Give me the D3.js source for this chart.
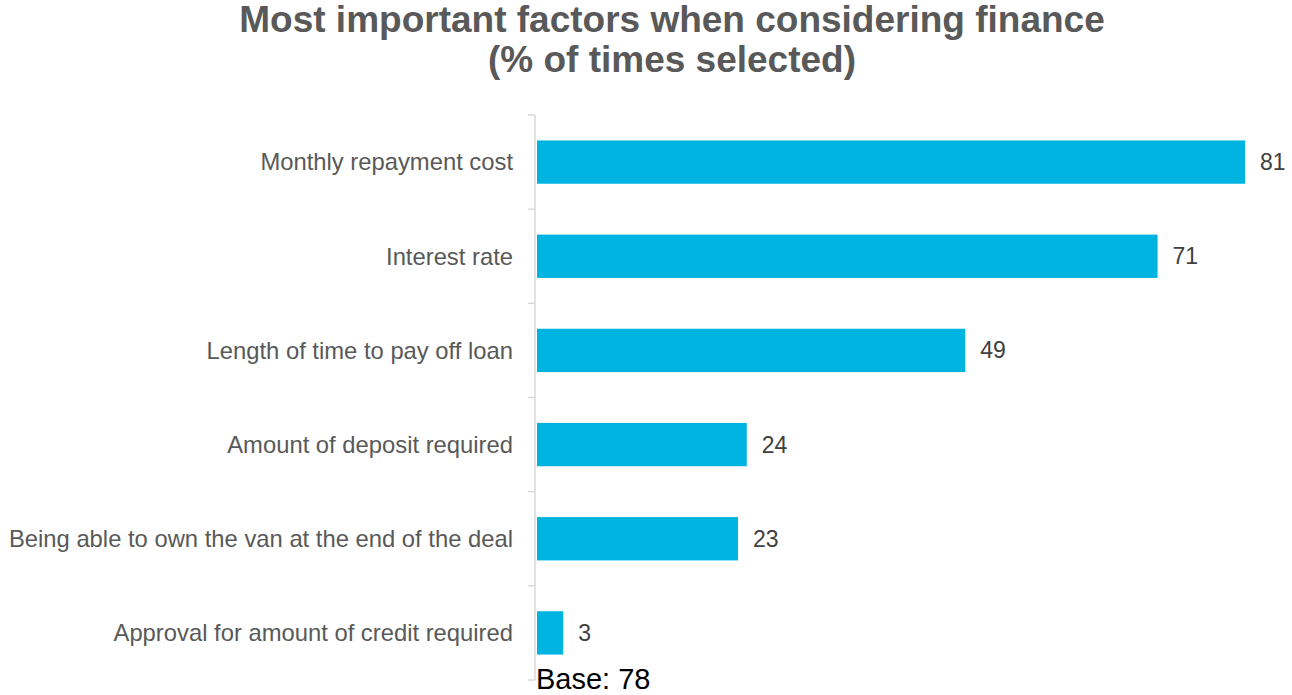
<!DOCTYPE html>
<html>
<head>
<meta charset="utf-8">
<script src="https://cdnjs.cloudflare.com/ajax/libs/d3/7.8.5/d3.min.js"></script>
<style>
  html, body { margin: 0; padding: 0; background: #ffffff; }
  svg { display: block; font-family: "Liberation Sans", Arial, sans-serif; }
</style>
</head>
<body>
<svg id="chart" width="1292" height="695"></svg>
<script>
// Survey results: share of respondents selecting each factor
const categories = [
  "Monthly repayment cost",
  "Interest rate",
  "Length of time to pay off loan",
  "Amount of deposit required",
  "Being able to own the van at the end of the deal",
  "Approval for amount of credit required"
];
const values = [81, 71, 49, 24, 23, 3];
const titleLines = ["Most important factors when considering finance", "(% of times selected)"];
const baseNote = "Base: 78";

const svg = d3.select("#chart");
const margin = { top: 115, left: 535 };
const plotBottom = 680;

const y = d3.scaleBand()
  .domain(categories)
  .range([margin.top, plotBottom])
  .paddingInner(0.54)
  .paddingOuter(0.27);

const x = d3.scaleLinear()
  .domain([0, 81])
  .range([margin.left + 2, 1245]);

// Title
svg.append("g")
  .selectAll("text")
  .data(titleLines)
  .join("text")
  .attr("x", 672)
  .attr("y", (d, i) => 32 + i * 40)
  .attr("text-anchor", "middle")
  .attr("font-size", 37)
  .attr("font-weight", "bold")
  .attr("fill", "#595959")
  .text(d => d);

// Category axis: vertical rule with tick marks at band boundaries
const axisG = svg.append("g").attr("class", "y-axis");
axisG.append("line")
  .attr("x1", margin.left).attr("x2", margin.left)
  .attr("y1", margin.top).attr("y2", plotBottom)
  .attr("stroke", "#d9d9d9").attr("stroke-width", 1.5);

const step = y.step();
const boundaries = d3.range(categories.length + 1).map(i => margin.top + i * step);
axisG.selectAll("line.tick")
  .data(boundaries)
  .join("line")
  .attr("class", "tick")
  .attr("x1", margin.left - 7).attr("x2", margin.left)
  .attr("y1", d => d).attr("y2", d => d)
  .attr("stroke", "#d9d9d9").attr("stroke-width", 1.5);

axisG.selectAll("text")
  .data(categories)
  .join("text")
  .attr("x", margin.left - 22)
  .attr("y", d => y(d) + y.bandwidth() / 2)
  .attr("dy", "0.35em")
  .attr("text-anchor", "end")
  .attr("font-size", 23.8)
  .attr("fill", "#595959")
  .text(d => d);

// Bars
const rows = categories.map((c, i) => ({ category: c, value: values[i] }));
svg.append("g")
  .selectAll("rect")
  .data(rows)
  .join("rect")
  .attr("x", x(0))
  .attr("y", d => y(d.category))
  .attr("width", d => x(d.value) - x(0))
  .attr("height", y.bandwidth())
  .attr("fill", "#00b4e1");

// Value labels
svg.append("g")
  .selectAll("text")
  .data(rows)
  .join("text")
  .attr("x", d => x(d.value) + 15)
  .attr("y", d => y(d.category) + y.bandwidth() / 2)
  .attr("dy", "0.35em")
  .attr("font-size", 23)
  .attr("fill", "#404040")
  .text(d => d.value);

// Base note
svg.append("text")
  .attr("x", margin.left + 1)
  .attr("y", 689)
  .attr("font-size", 29)
  .attr("fill", "#000000")
  .text(baseNote);
</script>
</body>
</html>
